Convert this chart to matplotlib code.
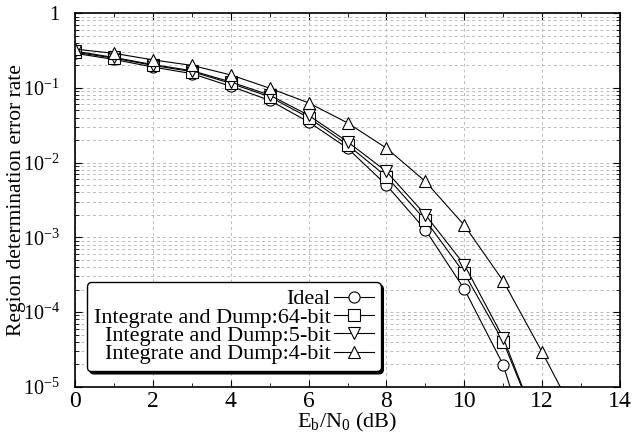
import numpy as np
import matplotlib
matplotlib.use("Agg")
from matplotlib import pyplot as plt
from matplotlib.ticker import FixedLocator, LogLocator, NullFormatter, FuncFormatter

plt.rcParams['font.family'] = ['Liberation Serif', 'DejaVu Serif']
plt.rcParams['mathtext.fontset'] = 'custom'
plt.rcParams['mathtext.rm'] = 'Liberation Serif'
plt.rcParams['mathtext.it'] = 'Liberation Serif:italic'

# Eb/N0 (dB)
ebn0 = [0, 1, 2, 3, 4, 5, 6, 7, 8, 9, 10, 11, 12, 13]

# error rates (values below 1e-5 are clipped)
ideal = [0.29, 0.24, 0.19, 0.155, 0.105, 0.068, 0.035, 0.0156, 0.0050,
         0.00126, 0.000203, 1.96e-5, 4e-7]
int_dump_64 = [0.30, 0.25, 0.20, 0.165, 0.115, 0.076, 0.040, 0.0173, 0.0065,
               0.0017, 0.00033, 4.0e-5, 2.1e-6]
int_dump_5 = [0.31, 0.255, 0.205, 0.17, 0.12, 0.08, 0.043, 0.019, 0.0076,
              0.0020, 0.00043, 4.5e-5, 2.1e-6]
int_dump_4 = [0.33, 0.29, 0.237, 0.20, 0.149, 0.099, 0.063, 0.034, 0.0156,
              0.0056, 0.00145, 0.00026, 2.9e-5, 2.9e-6]

series = [
    ('Ideal', ideal, 'o'),
    ('Integrate and Dump:64-bit', int_dump_64, 's'),
    ('Integrate and Dump:5-bit', int_dump_5, 'v'),
    ('Integrate and Dump:4-bit', int_dump_4, '^'),
]

fig = plt.figure(figsize=(6.33, 4.38), dpi=100)
ax = fig.add_axes([0.1185, 0.117, 0.861, 0.853])

for label, values, marker in series:
    ax.plot(ebn0[:len(values)], values, color='black', linewidth=0.8,
            marker=marker, markersize=8, markerfacecolor='white',
            markeredgecolor='black', markeredgewidth=0.8, label=label)

ax.set_yscale('log')
ax.set_xlim(0, 14)
ax.set_ylim(1e-5, 1)

ax.xaxis.set_major_locator(FixedLocator(np.arange(0, 15, 2)))
ax.xaxis.set_minor_locator(FixedLocator(np.arange(1, 14, 2)))
ax.yaxis.set_major_locator(LogLocator(base=10, numticks=10))
ax.yaxis.set_minor_locator(LogLocator(base=10, subs=np.arange(2, 10), numticks=10))
ax.yaxis.set_minor_formatter(NullFormatter())


def fmt_y(v, pos):
    e = int(round(np.log10(v)))
    if e == 0:
        return '1'
    return r'$\mathregular{10^{%d}}$' % e


ax.yaxis.set_major_formatter(FuncFormatter(fmt_y))

ax.tick_params(which='both', direction='in', top=True, right=True)
ax.tick_params(axis='x', labelsize=17, pad=3)
ax.tick_params(axis='y', labelsize=14.5, pad=11)
ax.tick_params(which='major', length=5)
ax.tick_params(which='minor', length=3)

ax.grid(True, which='major', axis='x', linestyle=(0, (3, 3)), color='#bbbbbb', linewidth=0.7)
ax.grid(True, which='both', axis='y', linestyle=(0, (3, 3)), color='#bbbbbb', linewidth=0.7)
for s in ax.spines.values():
    s.set_linewidth(1.2)

ax.set_xlabel(r'E$_\mathregular{b}$/N$_\mathregular{0}$ (dB)', fontsize=16, labelpad=-1)
ax.set_ylabel('Region determination error rate', fontsize=15.5)
ax.yaxis.set_label_coords(-0.0905, 0.5)

leg = ax.legend(loc='lower left', bbox_to_anchor=(0.022, 0.042), borderaxespad=0,
                fontsize=16, markerfirst=False, fancybox=True,
                shadow={'color': 'black', 'alpha': 1},
                edgecolor='black', framealpha=1, labelspacing=-0.1,
                handlelength=1.8, handletextpad=0.15, borderpad=0.3)
leg.get_frame().set_linewidth(1.0)
for t in leg.get_texts():
    t.set_ha('right')
leg._legend_box.align = 'right'

fig.savefig('out.png', dpi=100)
